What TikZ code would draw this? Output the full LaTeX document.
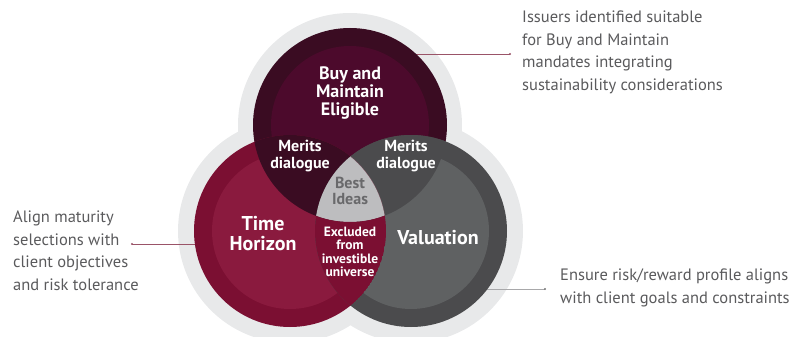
\documentclass[tikz,border=0pt]{standalone}
\usepackage{fontspec}
\setmainfont{PT Sans}
\newfontfamily\sidefont{PT Sans}
\definecolor{halo}{HTML}{E8E9EA}
\definecolor{bmOuter}{HTML}{3A0C22}
\definecolor{bmInner}{HTML}{4C0A2C}
\definecolor{thOuter}{HTML}{7B0F32}
\definecolor{thInner}{HTML}{8A1A3E}
\definecolor{vaOuter}{HTML}{4B4B4D}
\definecolor{vaInner}{HTML}{5F6162}
\definecolor{bestfill}{HTML}{BDBDBF}
\definecolor{besttext}{HTML}{69696B}
\definecolor{sidetext}{HTML}{5A5A5C}
\definecolor{leadred}{HTML}{9A5468}
\definecolor{leadgray}{HTML}{A8A8AA}
\tikzset{
  circlab/.style={text=white, font=\bfseries, align=center, inner sep=0pt},
  sidelab/.style={text=sidetext, font=\sidefont\fontsize{16.5}{22.4}\selectfont, align=left, anchor=north west, inner sep=0pt},
  leader/.style={line width=0.6pt},
  enddot/.style={circle, fill, inner sep=0.8pt}
}
\begin{document}
\begin{tikzpicture}[x=1pt,y=-1pt]
\useasboundingbox (0,0) rectangle (793,337);
\coordinate (bm) at (350,125);
\coordinate (th) at (290,231);
\coordinate (va) at (411,231);

\foreach \c in {bm,th,va}
  \fill[halo] (\c) circle (112);

\coordinate (bmlead) at (405,54);
\coordinate (thlead) at (200,244);
\coordinate (valead) at (480,289);
\draw[leader, leadred] (bmlead) -- (510,54) node[enddot] (bmdot) {};
\draw[leader, leadred] (thlead) -- (132,244) node[enddot] (thdot) {};
\draw[leader, leadgray] (valead) -- (545,289) node[enddot, fill=leadgray!70!black] (vadot) {};

\fill[bmOuter] (bm) circle (97);
\fill[bmInner] (bm) circle (79);
\fill[thOuter] (th) circle (96);
\fill[thInner] (th) circle (78);
\fill[vaOuter] (va) circle (96);
\fill[vaInner] (va) circle (78);

\begin{scope}
  \clip (bm) circle (97);
  \fill[bmOuter] (th) circle (96);
  \fill[vaOuter] (va) circle (96);
  \clip (th) circle (96);
  \fill[bestfill] (va) circle (96);
\end{scope}
\begin{scope}
  \clip (th) circle (96);
  \clip (va) circle (96);
  \fill[thOuter, even odd rule] (th) circle (96) (bm) circle (97);
\end{scope}

\node[circlab, font=\bfseries\fontsize{18}{18}\selectfont] (bmtext) at (350,93) {Buy and\\Maintain\\Eligible};
\node[circlab, font=\bfseries\fontsize{16}{16.7}\selectfont] (merl) at (300,156) {Merits\\dialogue};
\node[circlab, font=\bfseries\fontsize{16}{16.7}\selectfont] (merr) at (406,156) {Merits\\dialogue};
\node[circlab, text=besttext, font=\bfseries\fontsize{16}{16.7}\selectfont] (best) at (350,191) {Best\\Ideas};
\node[circlab, font=\bfseries\fontsize{20}{20}\selectfont] (thtext) at (263,234) {Time\\Horizon};
\node[circlab, font=\bfseries\fontsize{20}{20}\selectfont] (vatext) at (438,238) {Valuation};
\node[circlab, font=\bfseries\fontsize{13.5}{13.3}\selectfont] (excl) at (350,252) {Excluded\\from\\investible\\universe};

\node[sidelab] (bmnote) at (522,11) {Issuers identified suitable\\for Buy and Maintain\\mandates integrating\\sustainability considerations};
\node[sidelab] (thnote) at (13,211) {Align maturity\\selections with\\client objectives\\and risk tolerance};
\node[sidelab] (vanote) at (560,269) {Ensure risk/reward profile aligns\\with client goals and constraints};
\end{tikzpicture}
\end{document}
